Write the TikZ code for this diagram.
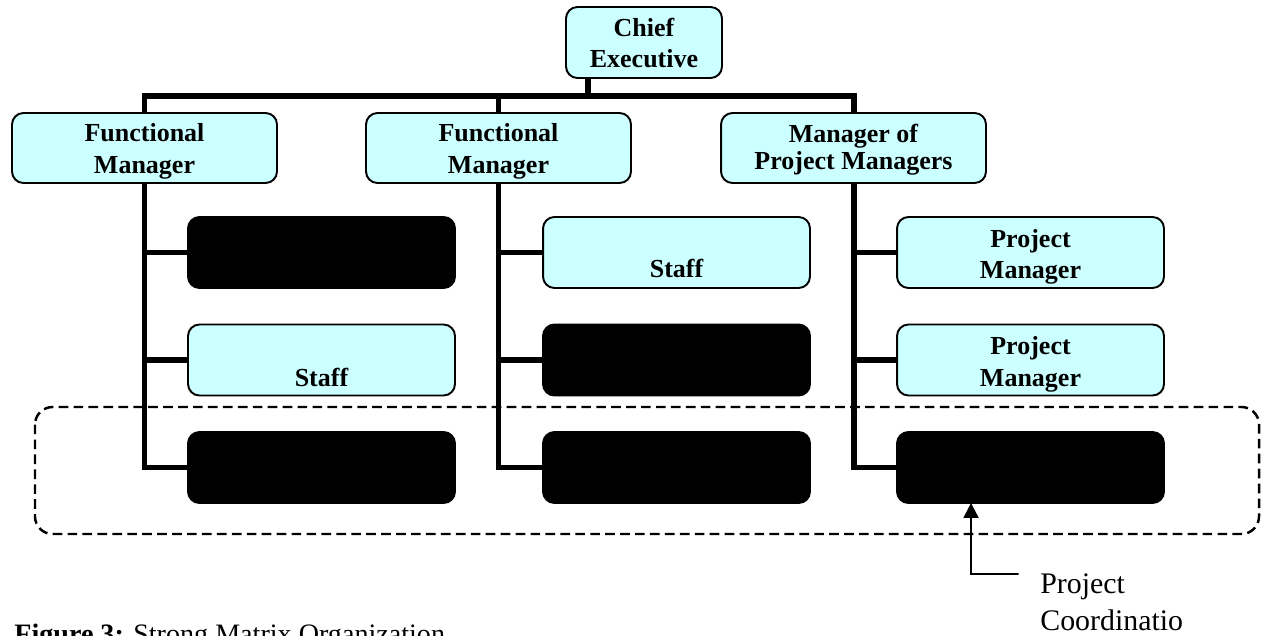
\documentclass[tikz,border=0pt]{standalone}
\usepackage{fontspec}
\setmainfont{Liberation Serif}
\usetikzlibrary{arrows.meta}
\definecolor{boxcyan}{HTML}{CCFFFF}
\tikzset{
	unit/.style={draw,line width=1.1pt,rounded corners=6.5pt,outer sep=0pt,inner sep=0pt,align=center,
		font=\fontsize{14.8}{18}\selectfont\bfseries},
	cyanbox/.style={unit,fill=boxcyan},
	twoline/.style={cyanbox,text height=29pt,text depth=0pt},
	blackbox/.style={unit,fill=black},
	headsize/.style={minimum width=5.3cm,minimum height=1.4cm},
	rowsize/.style={minimum width=5.34cm,minimum height=1.42cm},
	link/.style={line width=3.4pt,line cap=butt,line join=miter},
}
\begin{document}
\begin{tikzpicture}[x=0.02cm,y=-0.02cm,line join=round,line cap=round,>={Triangle[length=8.5pt,width=8.5pt]}]
	\useasboundingbox (0,0) rectangle (1266,635);
	\path
	(588,96) coordinate (S)
	(1018,574) coordinate (P)
	;
	\draw[line width=1.4pt,line cap=butt,dash pattern=on 5.5pt off 3pt,rounded corners=10pt] (35,407) rectangle (1259,534);
	% top level
	\node[twoline,minimum width=3.12cm,minimum height=1.42cm] (chief) at (644,42.5) {Chief\\Executive};
	\node[twoline,headsize] (fm1) at (144.5,148) {Functional\\Manager};
	\node[twoline,headsize] (fm2) at (498.5,148) {Functional\\Manager};
	\node[twoline,headsize,text height=25pt,font=\fontsize{14.8}{15.5}\selectfont\bfseries] (mpm) at (853.5,148) {Manager of\\Project Managers};
	% columns
	\node[blackbox,rowsize] (l1) at (321.5,252.5) {};
	\node[twoline,rowsize,text height=30.5pt] (l2) at (321.5,360) {\mbox{}\\Staff};
	\node[blackbox,rowsize] (l3) at (321.5,467.5) {};
	\node[twoline,rowsize,text height=28pt] (m1) at (676.5,252.5) {\mbox{}\\Staff};
	\node[blackbox,rowsize] (m2) at (676.5,360) {};
	\node[blackbox,rowsize] (m3) at (676.5,467.5) {};
	\node[twoline,rowsize,text height=30pt] (r1) at (1030.5,252.5) {Project\\Manager};
	\node[twoline,rowsize,text height=30pt] (r2) at (1030.5,360) {Project\\Manager};
	\node[blackbox,rowsize] (r3) at (1030.5,467.5) {};
	% connectors
	\draw[link] (chief.south -| S)--(S);
	\draw[link] (fm1.north) |- (S) -| (mpm.north);
	\draw[link] (fm2.north)--(fm2.north |- S);
	\draw[link] (fm1.south) |- (l3.west) (fm1.south |- l1.west)--(l1.west) (fm1.south |- l2.west)--(l2.west);
	\draw[link] (fm2.south) |- (m3.west) (fm2.south |- m1.west)--(m1.west) (fm2.south |- m2.west)--(m2.west);
	\draw[link] (mpm.south) |- (r3.west) (mpm.south |- r1.west)--(r1.west) (mpm.south |- r2.west)--(r2.west);
	\draw[line width=1.1pt,line join=miter,->] (P) -| ([xshift=-1.19cm]r3.south);
	\node[anchor=north west,align=left,inner sep=0pt,font=\fontsize{17}{21}\selectfont] (coord) at (1040,573) {Project\\Coordinatio};
	\node[anchor=base west,inner sep=0pt,font=\fontsize{16}{19}\selectfont] (caption) at (14,643) {\textbf{Figure 3:} Strong Matrix Organization};
\end{tikzpicture}
\end{document}
